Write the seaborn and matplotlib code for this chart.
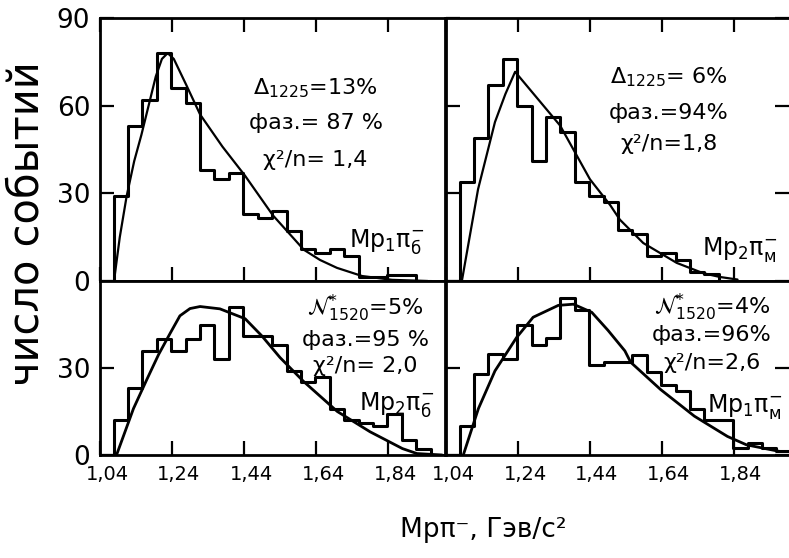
import numpy as np
import pandas as pd
import matplotlib
matplotlib.use("Agg")
import matplotlib.pyplot as plt
import matplotlib.transforms as mtransforms
import seaborn as sns

# histogram bins (GeV), common to all four panels
bin_start = 1.078
bin_width = 0.04

# event counts per bin
counts_tl = [29, 53, 62, 78, 66, 61, 38, 35, 37, 23, 21.5, 24, 17, 11, 9.5, 11, 8.5, 1.5, 1.5, 2, 2]
counts_tr = [34, 49, 67, 76, 60, 41, 56, 51, 34, 29, 27, 17.6, 16, 8.4, 9.5, 7.2, 3, 2.5]
counts_bl = [12, 23, 36, 40, 36, 40, 45, 33, 51, 41, 41, 38, 29, 25, 27, 16, 12, 11, 10, 14, 5, 2]
counts_br = [10, 28, 35, 33, 45, 38, 40.5, 54, 50, 31, 32, 32, 34.5, 28.5, 24, 22, 15.7, 12.2, 12.2, 2.4, 4, 2.4, 1.5]

# fitted curves, points
fit_tl_x = [1.079, 1.095, 1.114, 1.135, 1.155, 1.175, 1.195, 1.212, 1.228, 1.245, 1.28, 1.318, 1.38, 1.443, 1.52, 1.606, 1.651, 1.698, 1.768, 1.851, 1.95]
fit_tl_y = [0, 15, 29, 41, 50, 60, 70, 76, 78, 76, 67, 57, 46, 36, 22.5, 10.7, 7.2, 4.5, 1.7, 0.4, 0]
fit_tr_x = [1.084, 1.129, 1.176, 1.205, 1.232, 1.27, 1.306, 1.357, 1.44, 1.496, 1.523, 1.588, 1.681, 1.754, 1.80, 1.85]
fit_tr_y = [0, 31.4, 54.4, 64, 71.6, 66, 60.7, 53.2, 34.8, 26, 21, 13, 6.2, 2.7, 1.4, 0.5]
fit_bl_x = [1.086, 1.133, 1.17, 1.203, 1.235, 1.262, 1.29, 1.318, 1.373, 1.443, 1.49, 1.54, 1.605, 1.699, 1.79, 1.88, 1.92, 1.99]
fit_bl_y = [0, 16, 26, 34.7, 42, 48, 50.5, 51.2, 50.4, 47, 41, 33.6, 25.4, 15, 8, 2.2, 0.5, 0]
fit_br_x = [1.088, 1.13, 1.176, 1.236, 1.282, 1.352, 1.394, 1.445, 1.49, 1.537, 1.553, 1.636, 1.73, 1.822, 1.875, 1.968]
fit_br_y = [0, 16, 29, 40.5, 47.5, 51.6, 52, 49.2, 43, 35.9, 32, 22.6, 13.4, 6.4, 3.5, 1.2]

# panel texts
notes_tl = [r"$\Delta_{1225}$=13%", "фаз.= 87 %", "χ²/n= 1,4"]
notes_tr = [r"$\Delta_{1225}$= 6%", "фаз.=94%", "χ²/n=1,8"]
notes_bl = [r"$\mathcal{N}^{*}_{1520}$=5%", "фаз.=95 %", "χ²/n= 2,0"]
notes_br = [r"$\mathcal{N}^{*}_{1520}$=4%", "фаз.=96%", "χ²/n=2,6"]
hist_names = [r"$\mathrm{Mp_1\pi^{-}_{б}}$", r"$\mathrm{Mp_2\pi^{-}_{м}}$",
              r"$\mathrm{Mp_2\pi^{-}_{б}}$", r"$\mathrm{Mp_1\pi^{-}_{м}}$"]

xticks = [1.04, 1.24, 1.44, 1.64, 1.84]
xtick_labels = ["1,04", "1,24", "1,44", "1,64", "1,84"]

sns.set_theme(style="white")
plt.rcParams["font.family"] = ["DejaVu Sans"]
plt.rcParams["mathtext.fontset"] = "dejavusans"

fig = plt.figure(figsize=(7.89, 5.58), dpi=100)
ax_tl = fig.add_axes([0.1267, 0.4964, 0.4373, 0.4713])
ax_tr = fig.add_axes([0.5653, 0.4964, 0.4347, 0.4713])
ax_bl = fig.add_axes([0.1267, 0.1846, 0.4373, 0.3118])
ax_br = fig.add_axes([0.5653, 0.1846, 0.4347, 0.3118])

panels = [
    (ax_tl, counts_tl, fit_tl_x, fit_tl_y, notes_tl, (0.625, [0.735, 0.60, 0.46]), (0.83, 0.15), 1.6),
    (ax_tr, counts_tr, fit_tr_x, fit_tr_y, notes_tr, (0.65, [0.775, 0.64, 0.52]), (0.855, 0.12), 1.6),
    (ax_bl, counts_bl, fit_bl_x, fit_bl_y, notes_bl, (0.77, [0.84, 0.66, 0.51]), (0.86, 0.29), 2.0),
    (ax_br, counts_br, fit_br_x, fit_br_y, notes_br, (0.775, [0.85, 0.69, 0.53]), (0.87, 0.28), 2.0),
]

shift = mtransforms.ScaledTranslation(7 / 100, 0, fig.dpi_scale_trans)

for i, (ax, counts, fx, fy, notes, (nx, nys), (lx, ly), fit_lw) in enumerate(panels):
    n = len(counts)
    # one empty bin on each side so the outline drops to zero
    edges = (bin_start + bin_width * np.arange(-1, n + 2)).tolist()
    hist_df = pd.DataFrame({"mass": bin_start + bin_width * (np.arange(n) + 0.5),
                            "events": counts})
    sns.histplot(data=hist_df, x="mass", weights="events", bins=edges, element="step",
                 fill=False, color="black", linewidth=2.2, ax=ax)
    sns.lineplot(x=fx, y=fy, color="black", linewidth=fit_lw, sort=False,
                 estimator=None, ax=ax)
    ax.set_xlabel("")
    ax.set_ylabel("")

    top = i < 2
    left = i % 2 == 0
    ax.set_xlim(1.04, 1.998 if left else 1.993)
    ax.set_ylim(0, 90 if top else 60)
    ax.set_xticks(xticks)
    ax.set_yticks([0, 30, 60, 90] if top else [0, 30])

    for s in ax.spines.values():
        s.set_linewidth(2.0)
        s.set_color("black")
    if not left:
        ax.spines["right"].set_visible(False)

    ax.tick_params(direction="in", length=10, width=1.6, colors="black",
                   top=top, bottom=True, left=True, right=not left,
                   labelleft=left, labelbottom=not top, pad=7)
    ax.tick_params(axis="y", labelsize=19)
    ax.tick_params(axis="x", labelsize=14)
    if not top:
        ax.set_xticklabels(xtick_labels)
        for lab in ax.get_xticklabels():
            lab.set_transform(lab.get_transform() + shift)
    if left:
        ax.set_yticklabels(["0", "30", "60", "90"] if top else ["0", "30"])

    for txt, ny in zip(notes, nys):
        ax.text(nx, ny, txt, transform=ax.transAxes, ha="center", va="center",
                fontsize=16, color="black")
    ax.text(lx, ly, hist_names[i], transform=ax.transAxes, ha="center", va="center",
            fontsize=17, color="black")

fig.text(0.033, 0.60, "число событий", rotation=90, ha="center", va="center",
         fontsize=30, color="black")
fig.text(0.612, 0.05, "Mpπ⁻, Гэв/с²", ha="center", va="center", fontsize=19, color="black")

fig.savefig("out.png", dpi=100, facecolor="white")
